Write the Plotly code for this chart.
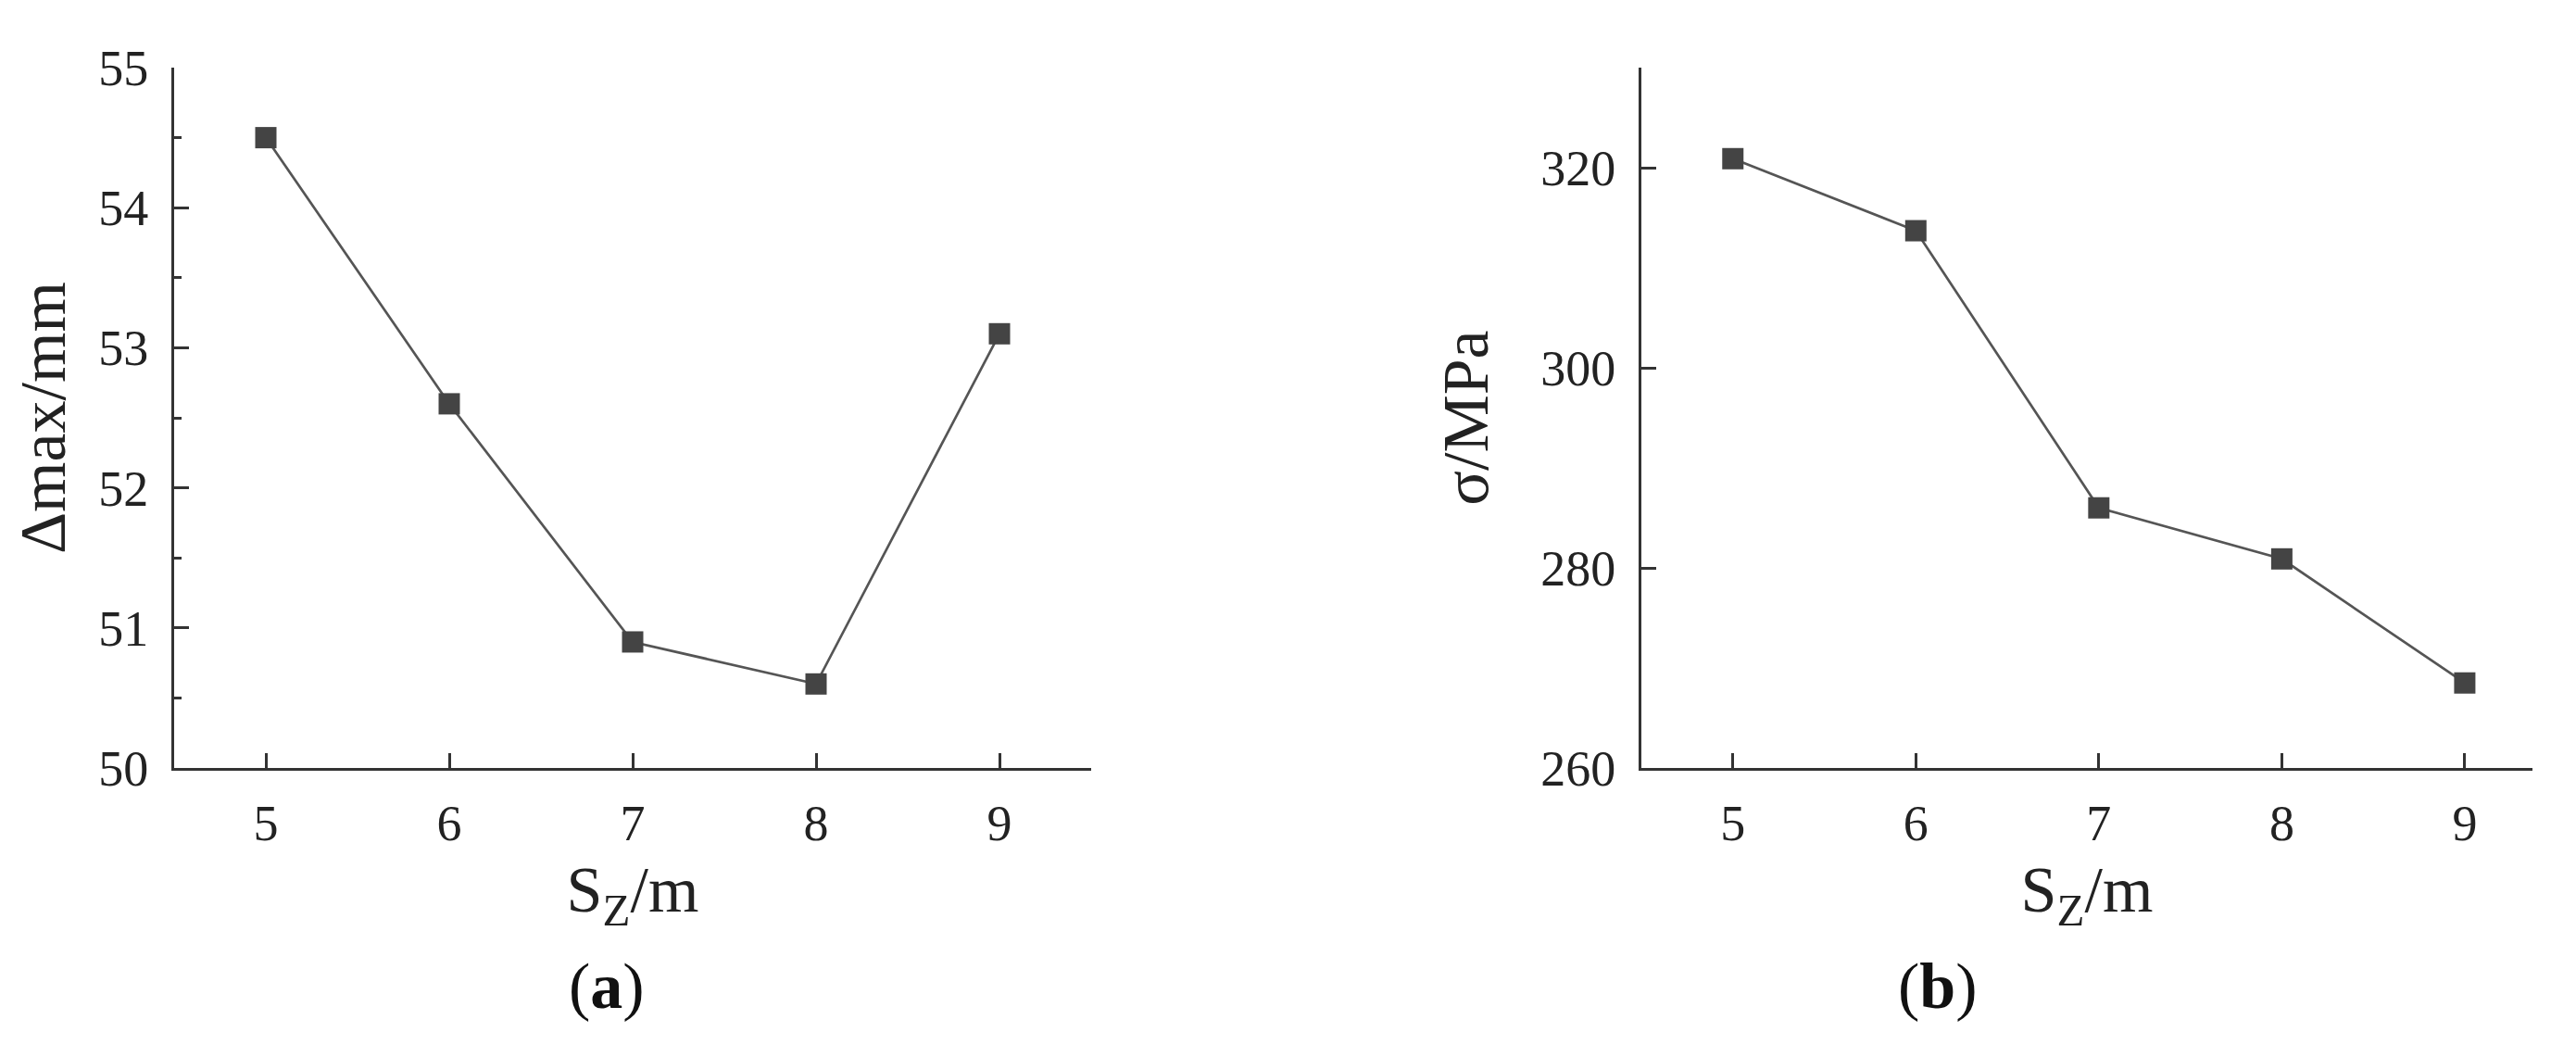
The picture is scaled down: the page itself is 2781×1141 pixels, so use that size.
import plotly.graph_objects as go

# Data
sz = [5, 6, 7, 8, 9]
delta_max = [54.5, 52.6, 50.9, 50.6, 53.1]
sigma = [320.9, 313.7, 286.0, 280.9, 268.5]

W, H = 2781, 1141
FONT = "Liberation Serif"
AX = "#333333"
LINE = "#555555"
MK = "#444444"

def px_x(p):
    return p / W

def px_y(p):
    return 1 - p / H

fig = go.Figure()
fig.add_trace(go.Scatter(x=sz, y=delta_max, mode="lines+markers",
                         line=dict(color=LINE, width=2.7),
                         marker=dict(symbol="square", size=23, color=MK),
                         xaxis="x", yaxis="y", showlegend=False))
fig.add_trace(go.Scatter(x=sz, y=sigma, mode="lines+markers",
                         line=dict(color=LINE, width=2.7),
                         marker=dict(symbol="square", size=23, color=MK),
                         xaxis="x2", yaxis="y2", showlegend=False))

common_axis = dict(showline=True, linecolor=AX, linewidth=3, ticks="inside",
                   tickcolor=AX, tickwidth=3, ticklen=16, showgrid=False,
                   zeroline=False, tickfont=dict(family=FONT, size=54, color="#222"))

ydom = [px_y(836), px_y(38)]

fig.update_layout(
    width=W, height=H,
    margin=dict(l=0, r=0, t=0, b=0),
    paper_bgcolor="white", plot_bgcolor="white",
    font=dict(family=FONT, color="#222"),
    xaxis=dict(domain=[px_x(180), px_x(1170)], range=[4.5, 9.5], tickvals=sz,
               anchor="y", ticklabelstandoff=10,
               title=dict(text="S<sub>Z</sub>/m", font=dict(family=FONT, size=70), standoff=18),
               **common_axis),
    yaxis=dict(domain=ydom, range=[50, 55], dtick=1, anchor="x",
               ticklabelstandoff=14,
               minor=dict(ticks="inside", ticklen=8, dtick=0.5, tickwidth=3, tickcolor=AX),
               title=dict(text="Δmax/mm", font=dict(family=FONT, size=70), standoff=46),
               **common_axis),
    xaxis2=dict(domain=[px_x(1764), px_x(2726)], range=[4.5, 9.37], tickvals=sz,
                anchor="y2", ticklabelstandoff=10,
                title=dict(text="S<sub>Z</sub>/m", font=dict(family=FONT, size=70), standoff=18),
                **common_axis),
    yaxis2=dict(domain=ydom, range=[260, 330], tickvals=[260, 280, 300, 320], anchor="x2",
                ticklabelstandoff=14,
                title=dict(text="σ/MPa", font=dict(family=FONT, size=70), standoff=34),
                **common_axis),
)

fig.add_annotation(text="(<b>a</b>)", x=px_x(647), y=px_y(1085), xref="paper", yref="paper",
                   showarrow=False, font=dict(family=FONT, size=70, color="#111"),
                   xanchor="center", yanchor="middle")
fig.add_annotation(text="(<b>b</b>)", x=px_x(2084), y=px_y(1085), xref="paper", yref="paper",
                   showarrow=False, font=dict(family=FONT, size=70, color="#111"),
                   xanchor="center", yanchor="middle")

fig.write_html("out.html")
